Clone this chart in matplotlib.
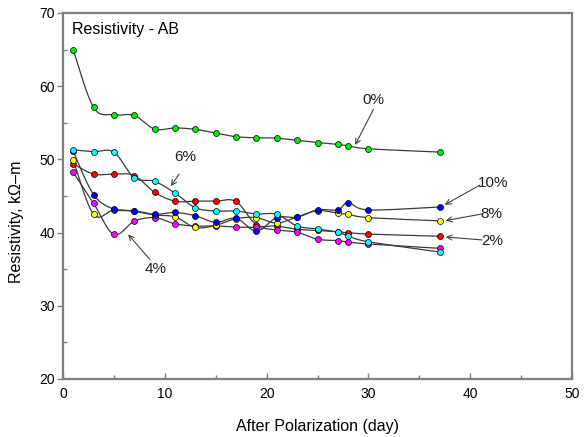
import numpy as np
import matplotlib
matplotlib.use("Agg")
import matplotlib.pyplot as plt
from matplotlib.ticker import MultipleLocator

plt.rcParams['font.family'] = ['Liberation Sans', 'DejaVu Sans']

days = [1, 3, 5, 7, 9, 11, 13, 15, 17, 19, 21, 23, 25, 27, 28, 30, 37]
r0 = [65.0, 57.1, 56.1, 56.0, 54.15, 54.3, 54.1, 53.6, 53.1, 52.95, 52.9, 52.6, 52.3, 52.05, 51.85, 51.45, 51.0]
r2 = [49.4, 48.0, 48.0, 47.8, 45.5, 44.3, 44.3, 44.3, 44.25, 41.1, 40.9, 40.45, 40.3, 40.1, 40.0, 39.8, 39.5]
r4 = [48.25, 44.0, 39.75, 41.55, 42.05, 41.2, 40.9, 40.9, 40.75, 40.7, 40.35, 40.05, 39.1, 38.9, 38.7, 38.45, 37.85]
r6 = [51.3, 51.05, 51.0, 47.5, 47.0, 45.4, 43.4, 42.95, 42.95, 42.55, 42.5, 40.9, 40.5, 40.05, 39.55, 38.75, 37.35]
r8 = [49.9, 42.5, 43.1, 42.9, 42.4, 42.15, 40.7, 41.0, 41.9, 42.05, 41.3, 42.15, 43.0, 42.65, 42.5, 42.05, 41.6]
r10 = [51.1, 45.2, 43.2, 43.0, 42.5, 42.75, 42.3, 41.4, 41.95, 40.2, 42.05, 42.1, 43.1, 43.1, 44.1, 43.1, 43.5]

series = [
    ("2%", r2, "#ff0000"),
    ("4%", r4, "#ff00ff"),
    ("8%", r8, "#ffff00"),
    ("10%", r10, "#0000ff"),
    ("6%", r6, "#00ffff"),
    ("0%", r0, "#00ee00"),
]


def smooth(xs, ys, n=20):
    """Catmull-Rom curve through the given points (line rendering only)."""
    P = np.column_stack([xs, ys]).astype(float)
    P = np.vstack([P[0], P, P[-1]])
    out = []
    t = np.linspace(0, 1, n, endpoint=False)
    for i in range(1, len(P) - 2):
        p0, p1, p2, p3 = P[i - 1], P[i], P[i + 1], P[i + 2]
        t2, t3 = t * t, t * t * t
        seg = 0.5 * ((2 * p1)[None, :] + (-p0 + p2)[None, :] * t[:, None]
                     + (2 * p0 - 5 * p1 + 4 * p2 - p3)[None, :] * t2[:, None]
                     + (-p0 + 3 * p1 - 3 * p2 + p3)[None, :] * t3[:, None])
        out.append(seg)
    out.append(P[-2][None, :])
    out = np.vstack(out)
    return out[:, 0], out[:, 1]


fig = plt.figure(figsize=(5.85, 4.37), dpi=100)
ax = fig.add_axes([63 / 585, 1 - 379 / 437, 509 / 585, 366 / 437])

for name, vals, col in series:
    sx, sy = smooth(days, vals)
    ax.plot(sx, sy, color="#3a3a3a", lw=0.9, zorder=2)
for name, vals, col in series:
    ax.plot(days, vals, ls="none", marker="o", ms=4.3, mfc=col, mec="black",
            mew=0.5, zorder=3)

ax.set_xlim(0, 50)
ax.set_ylim(20, 70)
ax.xaxis.set_major_locator(MultipleLocator(10))
ax.xaxis.set_minor_locator(MultipleLocator(5))
ax.yaxis.set_major_locator(MultipleLocator(10))
ax.yaxis.set_minor_locator(MultipleLocator(5))
ax.tick_params(axis="x", which="both", direction="in", length=4, width=1,
               color="#7f7f7f", labelsize=10, pad=6)
ax.tick_params(axis="x", which="minor", length=3)
ax.tick_params(axis="y", which="major", direction="out", length=4, width=1,
               color="#7f7f7f", labelsize=10, pad=2)
ax.tick_params(axis="y", which="minor", direction="in", length=3, width=1,
               color="#7f7f7f")
for s in ax.spines.values():
    s.set_color("#7f7f7f")
    s.set_linewidth(1.6)

ax.set_xlabel("After Polarization (day)", fontsize=11.5, labelpad=13)
ax.set_ylabel("Resistivity, kΩ–m", fontsize=11.5)
ax.yaxis.set_label_coords(-0.077, 0.43)

ax.text(0.017, 0.955, "Resistivity - AB", transform=ax.transAxes,
        fontsize=11.5, ha="left", va="center")

labels = [
    ("0%", (30.45, 58.1), (30.5, 56.85), (28.7, 51.97)),
    ("6%", (12.0, 50.3), (11.4, 48.0), (10.6, 46.35)),
    ("4%", (9.14, 35.0), (8.55, 36.3), (6.4, 39.75)),
    ("10%", (42.3, 46.8), (40.96, 46.5), (37.5, 43.8)),
    ("8%", (42.1, 42.54), (41.16, 42.54), (37.6, 41.65)),
    ("2%", (42.2, 38.85), (41.16, 39.0), (37.6, 39.4)),
]
for txt, tpos, tail, tip in labels:
    ax.text(tpos[0], tpos[1], txt, fontsize=11, ha="center", va="center",
            color="#202020", zorder=5)
    ax.annotate("", xy=tip, xytext=tail,
                arrowprops=dict(arrowstyle="->", color="#404040", lw=0.8,
                                shrinkA=0, shrinkB=0, mutation_scale=9),
                zorder=5)

fig.savefig("out.png", dpi=100)
